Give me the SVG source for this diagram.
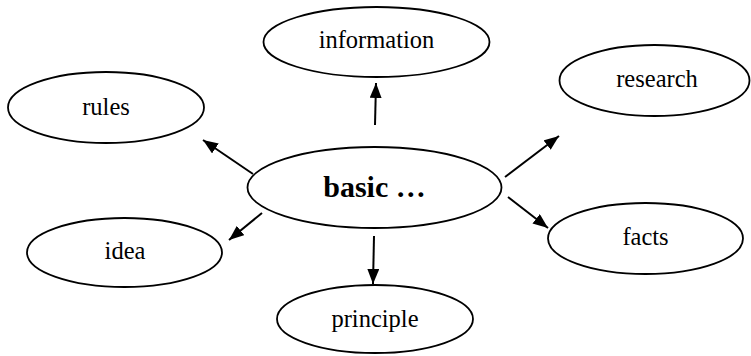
<svg xmlns="http://www.w3.org/2000/svg" width="751" height="356" viewBox="0 0 751 356">
<style>
.node ellipse{fill:#fff;stroke:#000;stroke-width:1.8}
.node text{font-family:"Liberation Serif","Times New Roman",serif;font-size:24.5px;text-anchor:middle;fill:#000}
.node text.main{font-weight:bold;font-size:30px}
.edges line{stroke:#000;stroke-width:2;marker-end:url(#arrow)}
</style>
<defs>
<marker id="arrow" markerUnits="userSpaceOnUse" markerWidth="16" markerHeight="12" refX="15" refY="6" orient="auto">
<path d="M0,0 L15,6 L0,12 z" fill="#000"/>
</marker>
</defs>
<rect width="751" height="356" fill="#fff"/>
<g id="edges" class="edges">
<line x1="375" y1="125" x2="376" y2="83"/>
<line x1="253" y1="174" x2="203" y2="140"/>
<line x1="505" y1="177" x2="559" y2="136"/>
<line x1="262" y1="213" x2="229" y2="240"/>
<line x1="374" y1="236" x2="373" y2="284"/>
<line x1="508" y1="197" x2="548" y2="228"/>
</g>
<g id="node-information" class="node"><ellipse cx="376.5" cy="42" rx="113" ry="35"/><text x="376.5" y="48">information</text></g>
<g id="node-rules" class="node"><ellipse cx="106" cy="107.5" rx="98" ry="35.5"/><text x="106" y="114.5">rules</text></g>
<g id="node-research" class="node"><ellipse cx="654.5" cy="80.5" rx="95" ry="35.5"/><text x="657" y="87">research</text></g>
<g id="node-basic" class="node"><ellipse cx="374.5" cy="187.5" rx="127" ry="40.5"/><text class="main" x="374.5" y="197">basic …</text></g>
<g id="node-idea" class="node"><ellipse cx="124.5" cy="252.5" rx="97.5" ry="34.5"/><text x="125" y="259">idea</text></g>
<g id="node-principle" class="node"><ellipse cx="375" cy="319" rx="98" ry="34"/><text x="375" y="327">principle</text></g>
<g id="node-facts" class="node"><ellipse cx="645.5" cy="238.5" rx="97.5" ry="35.5"/><text x="645.5" y="245">facts</text></g>
</svg>
